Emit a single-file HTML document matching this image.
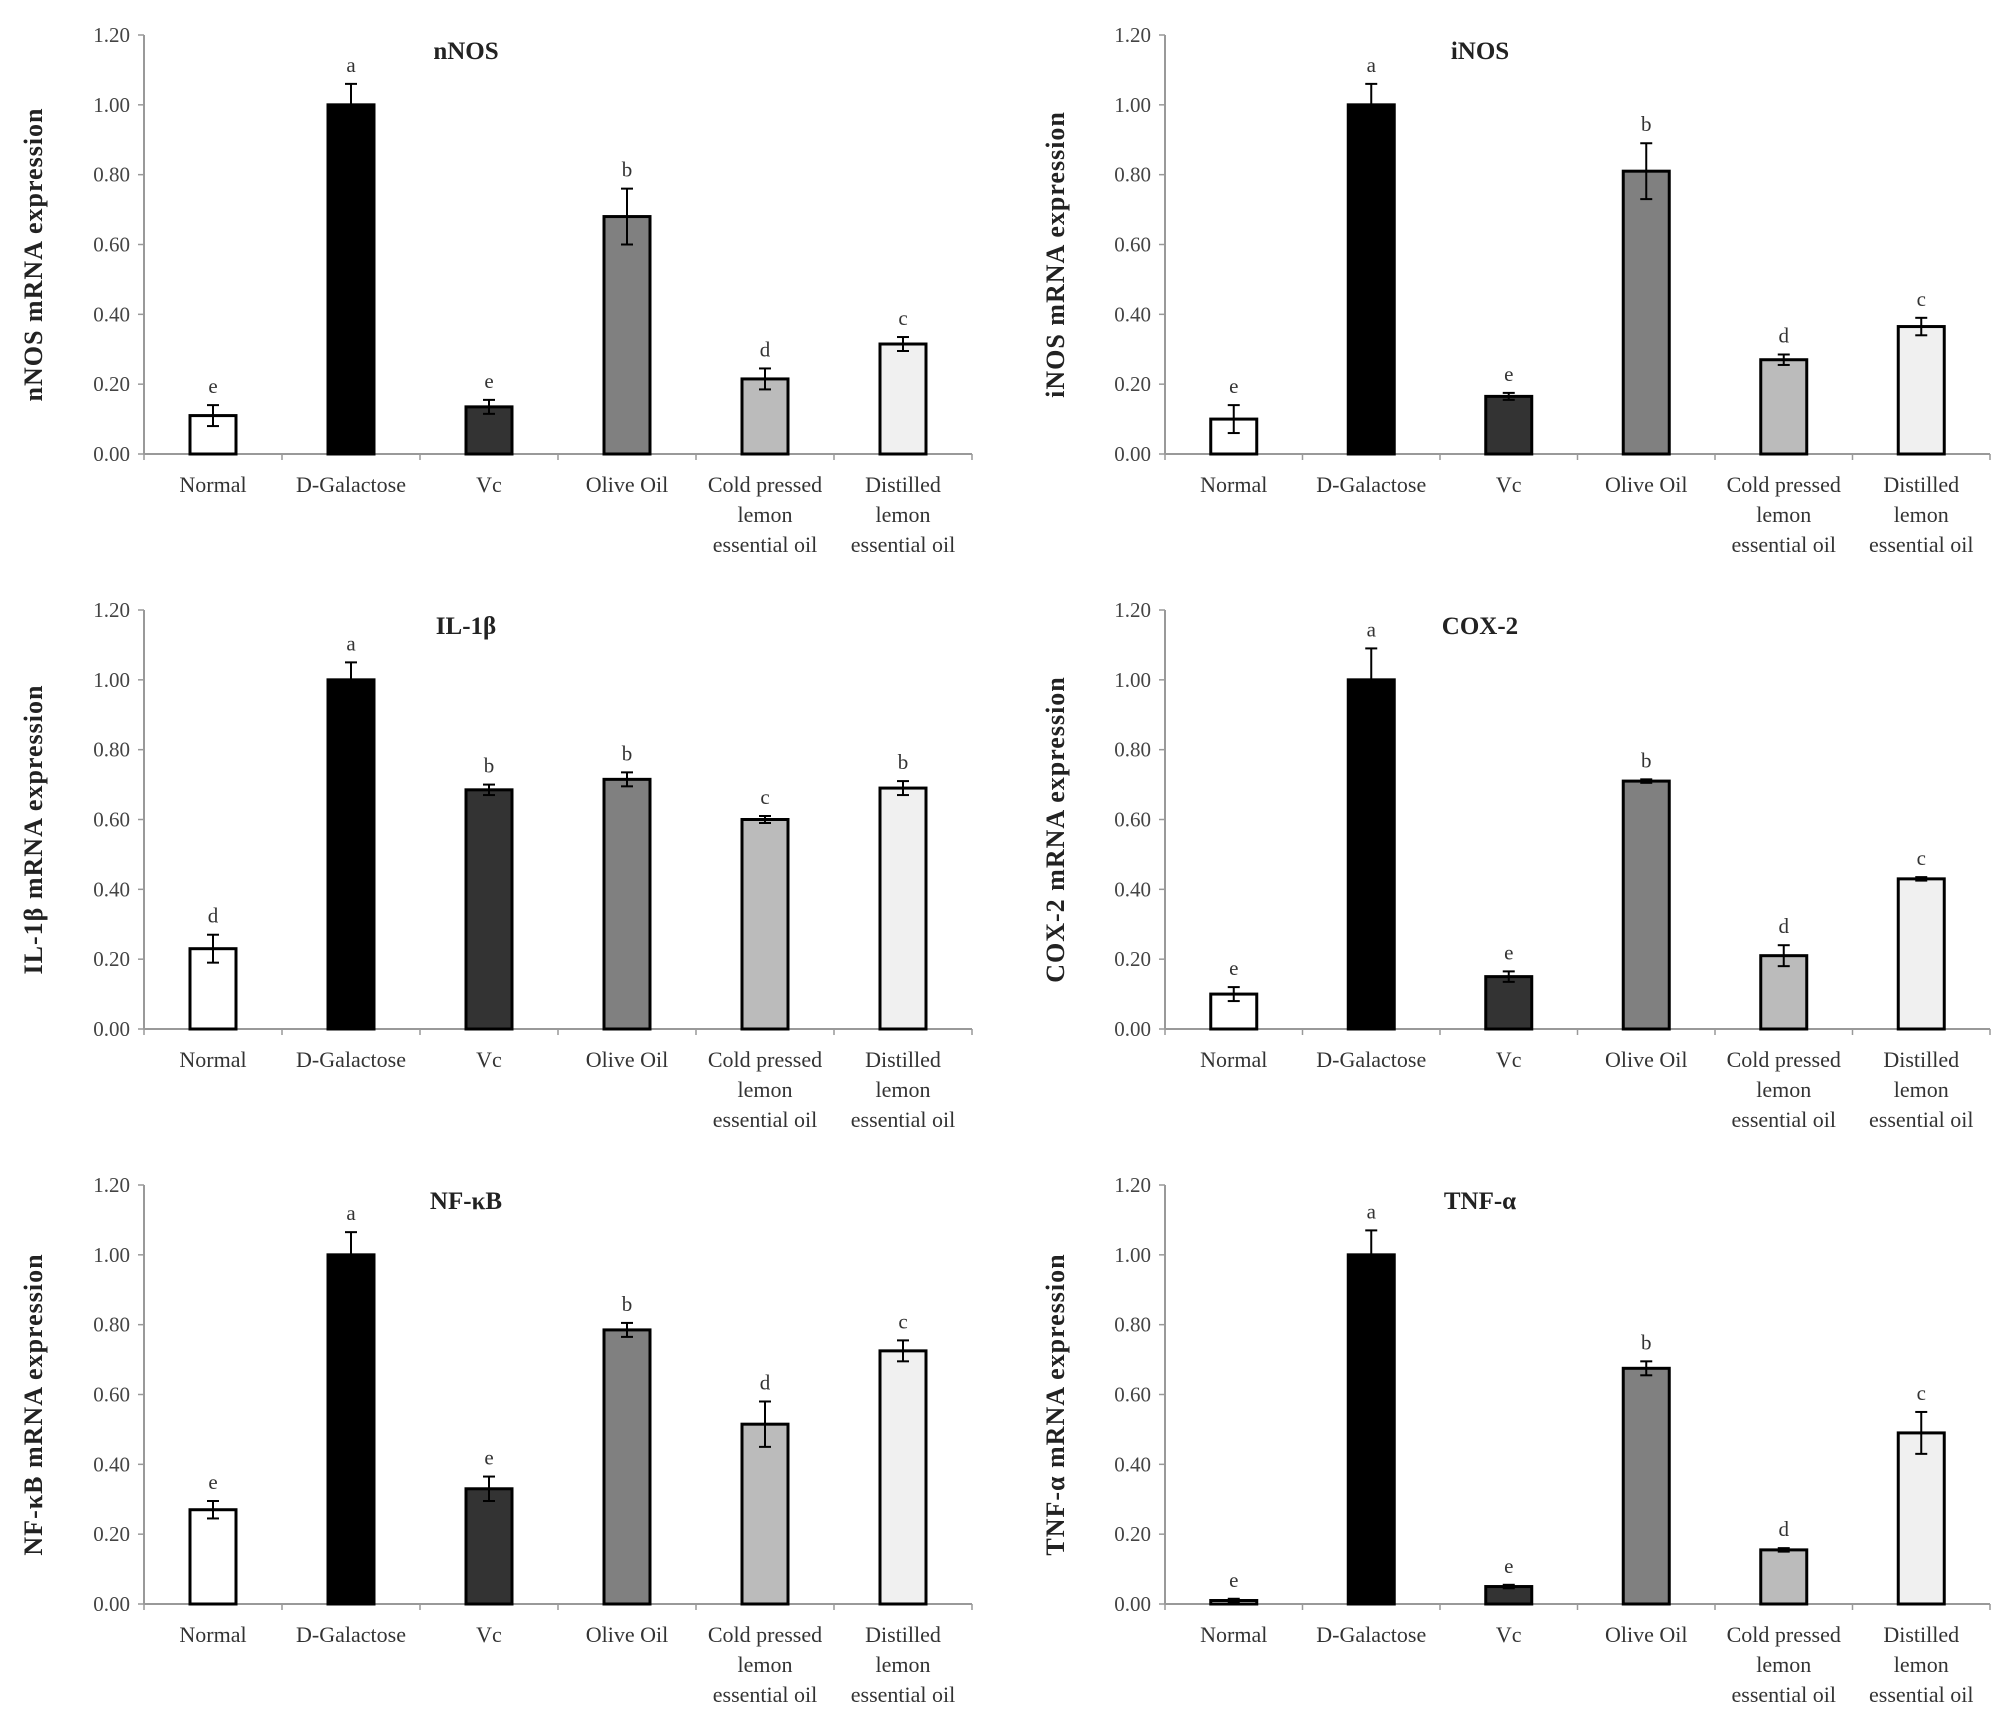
<!DOCTYPE html>
<html><head><meta charset="utf-8"><style>
html,body{margin:0;padding:0;background:#fff;}
svg{display:block;font-family:"Liberation Serif",serif;}
</style></head><body>
<svg id="fig" width="2008" height="1724" viewBox="0 0 2008 1724" xmlns="http://www.w3.org/2000/svg"></svg>
<script>
const categories = [["Normal"],["D-Galactose"],["Vc"],["Olive Oil"],["Cold pressed","lemon","essential oil"],["Distilled","lemon","essential oil"]];
const fills = ["#ffffff","#000000","#333333","#808080","#bbbbbb","#f0f0f0"];
const tickLabels = ["0.00","0.20","0.40","0.60","0.80","1.00","1.20"];
const tickValues = [0,0.2,0.4,0.6,0.8,1.0,1.2];
const titles = ["nNOS","iNOS","IL-1β","COX-2","NF-κB","TNF-α"];
const yTitles = ["nNOS  mRNA  expression","iNOS  mRNA  expression","IL-1β  mRNA  expression","COX-2  mRNA  expression","NF-κB  mRNA  expression","TNF-α  mRNA  expression"];
const nNOSValues = [0.11,1.00,0.135,0.68,0.215,0.315];
const nNOSErrors = [0.03,0.06,0.02,0.08,0.03,0.02];
const iNOSValues = [0.10,1.00,0.165,0.81,0.27,0.365];
const iNOSErrors = [0.04,0.06,0.01,0.08,0.015,0.025];
const il1bValues = [0.23,1.00,0.685,0.715,0.60,0.69];
const il1bErrors = [0.04,0.05,0.015,0.02,0.01,0.02];
const cox2Values = [0.10,1.00,0.15,0.71,0.21,0.43];
const cox2Errors = [0.02,0.09,0.015,0.005,0.03,0.005];
const nfkbValues = [0.27,1.00,0.33,0.785,0.515,0.725];
const nfkbErrors = [0.025,0.065,0.035,0.02,0.065,0.03];
const tnfaValues = [0.01,1.00,0.05,0.675,0.155,0.49];
const tnfaErrors = [0.005,0.07,0.005,0.02,0.005,0.06];
const nNOSLetters = ["e","a","e","b","d","c"];
const iNOSLetters = ["e","a","e","b","d","c"];
const il1bLetters = ["d","a","b","b","c","b"];
const cox2Letters = ["e","a","e","b","d","c"];
const nfkbLetters = ["e","a","e","b","d","c"];
const tnfaLetters = ["e","a","e","b","d","c"];

const allValues=[nNOSValues,iNOSValues,il1bValues,cox2Values,nfkbValues,tnfaValues];
const allErrors=[nNOSErrors,iNOSErrors,il1bErrors,cox2Errors,nfkbErrors,tnfaErrors];
const allLetters=[nNOSLetters,iNOSLetters,il1bLetters,cox2Letters,nfkbLetters,tnfaLetters];
const NS="http://www.w3.org/2000/svg";
const svg=document.getElementById('fig');
function mk(tag,attrs,parent){const e=document.createElementNS(NS,tag);for(const k in attrs)e.setAttribute(k,attrs[k]);parent.appendChild(e);return e;}
const slug=["nnos","inos","il-1b","cox-2","nf-kb","tnf-a"];
for(let p=0;p<6;p++){
  const col=p%2,row=Math.floor(p/2);
  const x0=col?1165:144, x1=col?1990:972;
  const yb=[454,1029,1604][row], yt=[35,610,1185][row];
  const g=mk('g',{},svg);
  
  
  const ys=v=>yb-(v/1.2)*(yb-yt);
  const bw=(x1-x0)/6;
  const xc=i=>x0+bw*(i+0.5);
  const ax=mk('line',{x1:x0,y1:yt,x2:x0,y2:yb,stroke:'#999','stroke-width':2},g);
  
  
  const xa=mk('line',{x1:x0,y1:yb,x2:x1,y2:yb,stroke:'#999','stroke-width':2},g);
  
  
  for(let i=0;i<=6;i++){mk('line',{x1:x0+bw*i,y1:yb,x2:x0+bw*i,y2:yb+6,stroke:'#999','stroke-width':1.5},g);}
  tickValues.forEach((v,i)=>{
    mk('line',{x1:x0-6,y1:ys(v),x2:x0,y2:ys(v),stroke:'#999','stroke-width':1.5},g);
    const t=mk('text',{x:x0-14,y:ys(v)+7,'text-anchor':'end','font-size':21,fill:'#444'},g);
    t.textContent=tickLabels[i];
    
    
  });
  const tt=mk('text',{x:x0+(col?315:322),y:yt+24,'text-anchor':'middle','font-size':25,'font-weight':'bold',fill:'#222'},g);
  tt.textContent=titles[p];
  
  
  const yl=col?1064:42, ym=(yt+yb)/2+10;
  const ytl=mk('text',{x:yl,y:ym,'text-anchor':'middle','font-size':26,'letter-spacing':1,'font-weight':'bold',fill:'#222',transform:`rotate(-90 ${yl} ${ym})`,'xml:space':'preserve'},g);
  ytl.textContent=yTitles[p];
  
  
  const vals=allValues[p],errs=allErrors[p],lets=allLetters[p];
  vals.forEach((v,i)=>{
    const w=46,cx=xc(i);
    const r=mk('rect',{x:cx-w/2,y:ys(v),width:w,height:yb-ys(v),fill:fills[i],stroke:'#000','stroke-width':3},g);
    
    
    const e=errs[i];
    mk('line',{x1:cx,y1:ys(v+e),x2:cx,y2:ys(Math.max(0,v-e)),stroke:'#000','stroke-width':2},g);
    mk('line',{x1:cx-6,y1:ys(v+e),x2:cx+6,y2:ys(v+e),stroke:'#000','stroke-width':2},g);
    mk('line',{x1:cx-6,y1:ys(Math.max(0,v-e)),x2:cx+6,y2:ys(Math.max(0,v-e)),stroke:'#000','stroke-width':2},g);
    const lt=mk('text',{x:cx,y:ys(v+e)-12,'text-anchor':'middle','font-size':21,fill:'#333'},g);
    lt.textContent=lets[i];
    
    
    categories[i].forEach((line,k)=>{
      const ct=mk('text',{x:cx,y:yb+38+k*30,'text-anchor':'middle','font-size':22,fill:'#333'},g);
      ct.textContent=line;
      
      
    });
  });
}
</script>
</body></html>
